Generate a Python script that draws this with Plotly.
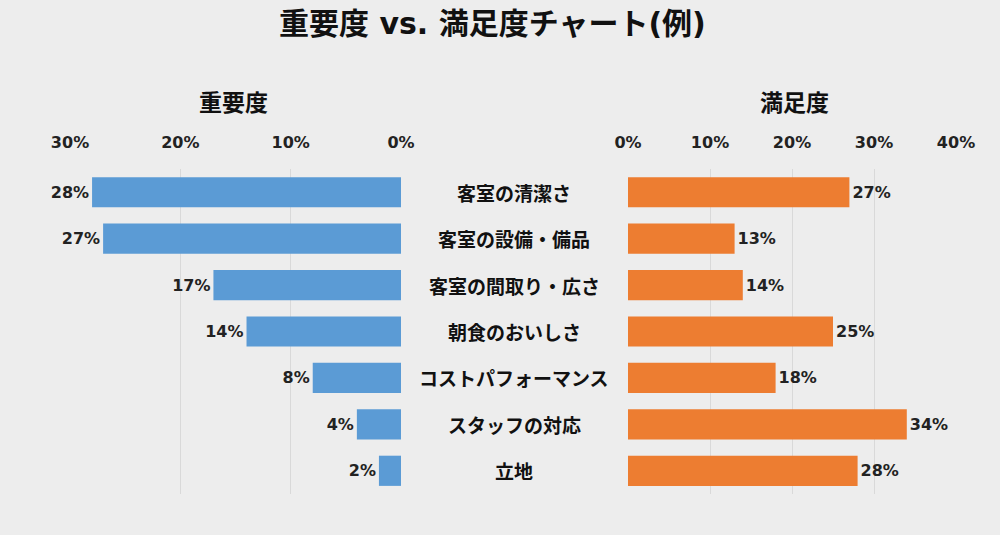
import plotly.graph_objects as go

categories = ["客室の清潔さ", "客室の設備・備品", "客室の間取り・広さ", "朝食のおいしさ",
              "コストパフォーマンス", "スタッフの対応", "立地"]
importance = [28, 27, 17, 14, 8, 4, 2]
satisfaction = [27, 13, 14, 25, 18, 34, 28]
left_ticks = [0, 10, 20, 30]
right_ticks = [0, 10, 20, 30, 40]

FONT = "DejaVu Sans, Noto Sans CJK JP"
CJK = "Noto Sans CJK JP"
BG = "#ededed"

fig = go.Figure()
fig.add_trace(go.Bar(
    y=categories, x=importance, orientation="h", xaxis="x", yaxis="y",
    marker=dict(color="#5b9bd5", line=dict(width=0)), width=0.65,
    text=[f"{v}%" for v in importance], textposition="outside",
    textfont=dict(family=FONT, size=16, color="#222222", weight="bold"),
    cliponaxis=False, hoverinfo="skip"))
fig.add_trace(go.Bar(
    y=categories, x=satisfaction, orientation="h", xaxis="x2", yaxis="y",
    marker=dict(color="#ed7d31", line=dict(width=0)), width=0.65,
    text=[f"{v}%" for v in satisfaction], textposition="outside",
    textfont=dict(family=FONT, size=16, color="#222222", weight="bold"),
    cliponaxis=False, hoverinfo="skip"))

for c in categories:
    fig.add_annotation(x=0.514, xref="paper", y=c, yref="y", text=c, showarrow=False,
                       xanchor="center", yanchor="middle",
                       font=dict(family=CJK, size=19, color="#111111", weight="bold"))

fig.add_annotation(x=0.492, xref="paper", y=1 - 24 / 535, yref="paper", text="重要度 vs. 満足度チャート(例)",
                   showarrow=False, xanchor="center", yanchor="middle",
                   font=dict(family=FONT, size=30, color="#111111", weight="bold"))
fig.add_annotation(x=0.233, xref="paper", y=1 - 101 / 535, yref="paper", text="重要度",
                   showarrow=False, xanchor="center", yanchor="middle",
                   font=dict(family=CJK, size=23, color="#111111", weight="bold"))
fig.add_annotation(x=0.794, xref="paper", y=1 - 101 / 535, yref="paper", text="満足度",
                   showarrow=False, xanchor="center", yanchor="middle",
                   font=dict(family=CJK, size=23, color="#111111", weight="bold"))

axis_common = dict(side="top", showgrid=True, gridcolor="#d9d9d9", gridwidth=1, zeroline=False,
                   showline=False, ticks="outside", ticklen=14, tickcolor="rgba(0,0,0,0)",
                   tickfont=dict(family=FONT, size=16, color="#222222", weight="bold"),
                   fixedrange=True, automargin=False)

fig.update_layout(
    width=1000, height=535, margin=dict(l=0, r=0, t=0, b=0, autoexpand=False),
    paper_bgcolor=BG, plot_bgcolor=BG, showlegend=False, bargap=0.35,
    xaxis=dict(domain=[0.070, 0.401], range=[30, 0], tickvals=left_ticks,
               ticktext=[f"{t}%" for t in left_ticks], anchor="y", **axis_common),
    xaxis2=dict(domain=[0.628, 0.956], range=[0, 40], tickvals=right_ticks,
                ticktext=[f"{t}%" for t in right_ticks], anchor="y", **axis_common),
    yaxis=dict(domain=[1 - 494 / 535, 1 - 169 / 535], autorange="reversed", showticklabels=False,
               showgrid=False, zeroline=False, showline=False, ticks="", automargin=False,
               fixedrange=True),
)

fig.write_html("out.html", config={"displayModeBar": False},
               post_script="document.body.style.margin='0';document.body.style.overflow='hidden';")
